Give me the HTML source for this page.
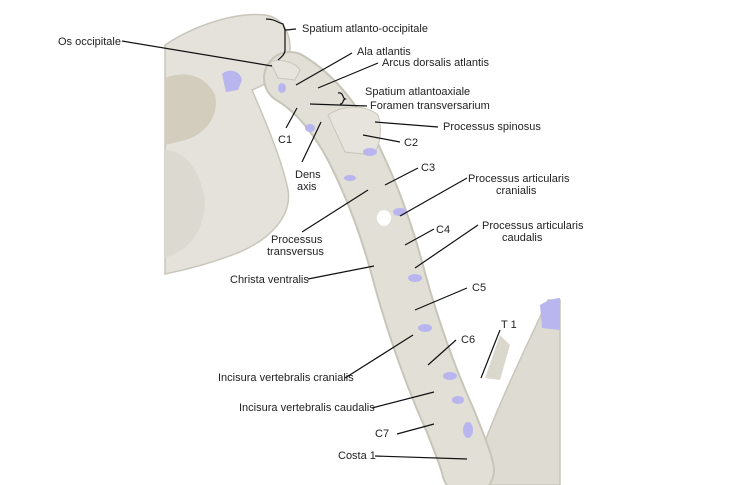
<!DOCTYPE html>
<html><head><meta charset="utf-8"><style>
html,body{margin:0;padding:0;background:#fff}
svg{display:block}
text{font-family:"Liberation Sans",sans-serif;font-size:11px;fill:#222}
</style></head><body>
<svg width="750" height="485" viewBox="0 0 750 485" xmlns="http://www.w3.org/2000/svg">
<!-- skull -->
<path d="M165,45 C195,25 235,12 265,15 C287,18 294,42 288,62 L280,74 C272,80 262,86 252,90 C265,120 282,160 288,190 C292,215 272,238 240,252 C210,264 185,270 165,274 Z" fill="#e4e2da" stroke="#c9c6bb" stroke-width="1.5"/>
<path d="M165,78 C185,70 205,75 215,95 C220,115 205,135 185,140 L165,145 Z" fill="#d2cdbd"/>
<path d="M165,150 C185,150 200,170 205,200 C205,230 190,250 165,258 Z" fill="#dcd9d0"/>
<path d="M222,74 C228,68 240,70 242,80 L238,90 L226,92 Z" fill="#b9b5ef"/>
<!-- ribs / T1 region -->
<path d="M470,485 C490,420 520,360 548,300 L560,300 L560,485 Z" fill="#dedbd2" stroke="#c9c6bb" stroke-width="1.5"/>
<path d="M540,305 C548,300 556,298 560,298 L560,330 L542,328 Z" fill="#b9b5ef"/>
<path d="M485,378 L500,335 L510,345 L500,380 Z" fill="#dad7cc"/>
<!-- vertebral column -->
<path d="M290,78 C310,90 332,112 352,150 C372,190 387,230 400,280 C414,330 432,380 450,420 C460,445 466,460 468,470" fill="none" stroke="#c8c5b9" stroke-width="54" stroke-linecap="round"/>
<path d="M290,78 C310,90 332,112 352,150 C372,190 387,230 400,280 C414,330 432,380 450,420 C460,445 466,460 468,470" fill="none" stroke="#e1dfd6" stroke-width="50" stroke-linecap="round"/>
<path d="M328,115 C345,103 368,106 378,115 C383,130 380,148 372,155 L345,152 Z" fill="#e6e4dc" stroke="#c9c6bb"/>
<path d="M270,62 C280,58 295,62 300,70 L295,80 L278,78 Z" fill="#e6e4dc" stroke="#c9c6bb"/>
<g fill="#b9b5ef">
<ellipse cx="370" cy="152" rx="7" ry="4"/>
<ellipse cx="350" cy="178" rx="6" ry="3"/>
<ellipse cx="400" cy="212" rx="7" ry="4"/>
<ellipse cx="415" cy="278" rx="7" ry="4"/>
<ellipse cx="425" cy="328" rx="7" ry="4"/>
<ellipse cx="450" cy="376" rx="7" ry="4"/>
<ellipse cx="458" cy="400" rx="6" ry="4"/>
<ellipse cx="468" cy="430" rx="5" ry="8"/>
<ellipse cx="310" cy="128" rx="5" ry="4"/>
<ellipse cx="282" cy="88" rx="4" ry="5"/>
</g>
<ellipse cx="384" cy="218" rx="7" ry="8" fill="#fff"/>
<!-- leader lines -->
<g stroke="#111" stroke-width="1.2" fill="none">
<line x1="122" y1="41" x2="272" y2="66"/>
<path d="M266,19 C275,19 276,22 283,24 L285,30 L285,50 C285,55 280,58 278,60 M285,30 C290,30 293,29 296,29"/>
<line x1="352" y1="53" x2="296" y2="85"/>
<line x1="378" y1="63" x2="318" y2="88"/>
<path d="M338,93 C344,92 342,98 345,99 C342,100 344,104 340,104"/>
<line x1="367" y1="106" x2="310" y2="104"/>
<line x1="438" y1="127" x2="375" y2="122"/>
<line x1="286" y1="128" x2="297" y2="108"/>
<line x1="400" y1="142" x2="363" y2="135"/>
<line x1="302" y1="162" x2="321" y2="122"/>
<line x1="418" y1="168" x2="385" y2="185"/>
<line x1="467" y1="178" x2="400" y2="216"/>
<line x1="302" y1="232" x2="368" y2="190"/>
<line x1="434" y1="229" x2="405" y2="245"/>
<line x1="478" y1="225" x2="415" y2="268"/>
<line x1="308" y1="279" x2="374" y2="266"/>
<line x1="467" y1="288" x2="415" y2="310"/>
<line x1="500" y1="330" x2="481" y2="378"/>
<line x1="456" y1="340" x2="428" y2="365"/>
<line x1="345" y1="378" x2="413" y2="335"/>
<line x1="372" y1="408" x2="434" y2="392"/>
<line x1="397" y1="434" x2="434" y2="424"/>
<line x1="375" y1="456" x2="467" y2="459"/>
</g>
<!-- labels -->
<text x="58" y="45">Os occipitale</text>
<text x="302" y="32">Spatium atlanto-occipitale</text>
<text x="357" y="55">Ala atlantis</text>
<text x="382" y="66">Arcus dorsalis atlantis</text>
<text x="365" y="95">Spatium atlantoaxiale</text>
<text x="370" y="109">Foramen transversarium</text>
<text x="443" y="130">Processus spinosus</text>
<text x="278" y="143">C1</text>
<text x="404" y="146">C2</text>
<text x="295" y="178">Dens</text>
<text x="297" y="190">axis</text>
<text x="421" y="171">C3</text>
<text x="468" y="182">Processus articularis</text>
<text x="496" y="194">cranialis</text>
<text x="271" y="243">Processus</text>
<text x="267" y="255">transversus</text>
<text x="436" y="233">C4</text>
<text x="482" y="229">Processus articularis</text>
<text x="502" y="241">caudalis</text>
<text x="230" y="283">Christa ventralis</text>
<text x="472" y="291">C5</text>
<text x="501" y="328">T 1</text>
<text x="461" y="343">C6</text>
<text x="218" y="381">Incisura vertebralis cranialis</text>
<text x="239" y="411">Incisura vertebralis caudalis</text>
<text x="375" y="437">C7</text>
<text x="338" y="459">Costa 1</text>
</svg>
</body></html>
